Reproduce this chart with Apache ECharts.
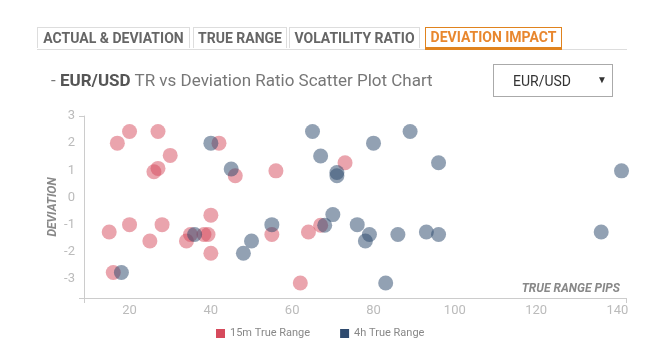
<!DOCTYPE html>
<html>
<head>
<meta charset="utf-8">
<script src="https://cdn.jsdelivr.net/npm/echarts@6/dist/echarts.min.js"></script>
<style>
    html, body { margin: 0; padding: 0; background: #fff; }
    body { width: 662px; height: 354px; position: relative; overflow: hidden; font-family: Roboto, sans-serif; }
    #chart { position: absolute; left: 0; top: 0; width: 662px; height: 354px; }
    .tab { position: absolute; top: 27px; height: 21px; box-sizing: border-box; border: 1px solid #ddd; border-bottom: none;
        font-weight: bold; font-size: 14px; line-height: 20px; color: #666; text-align: center; background: #fff; white-space: nowrap; }
    .tab.active { border: 1px solid #e0831e; border-bottom: 3px solid #e0831e; height: 23px; line-height: 19px; color: #e8872e; }
    #tabline { position: absolute; left: 37px; top: 49px; width: 590px; height: 1px; background: #ddd; }
    #title { position: absolute; left: 51px; top: 69px; font-size: 17px; line-height: 22px; color: #777; white-space: nowrap; }
    #title b { color: #555; }
    #select { position: absolute; left: 493px; top: 64px; width: 120px; height: 33px; box-sizing: border-box; border: 1px solid #aaa;
        font-size: 14px; color: #333; }
    #select span { position: absolute; left: 19px; top: 8px; }
    #select i { position: absolute; left: 103px; top: 9px; font-style: normal; font-size: 10px; }
</style>
</head>
<body>
<div id="chart"></div>
<div id="tabline"></div>
<div class="tab" style="left:37px;width:153px;">ACTUAL &amp; DEVIATION</div>
<div class="tab" style="left:193px;width:94px;">TRUE RANGE</div>
<div class="tab" style="left:289px;width:131px;">VOLATILITY RATIO</div>
<div class="tab active" style="left:425px;width:137px;">DEVIATION IMPACT</div>
<div id="title">- <b>EUR/USD</b> TR vs Deviation Ratio Scatter Plot Chart</div>
<div id="select"><span>EUR/USD</span><i>&#9660;</i></div>
<script>
// 图例名称
var seriesNames = ['15m True Range', '4h True Range'];
// 15m 数据 [true range pips, deviation]
var data15m = [
    [17, 2.0], [20, 2.43], [27, 2.43], [30, 1.55], [26, 0.95], [27, 1.07], [42, 2.0], [46, 0.8],
    [56, 0.98], [73, 1.28], [15, -1.27], [20, -1.0], [25, -1.6], [28, -1.0], [16, -2.76], [34, -1.6],
    [35, -1.36], [38.3, -1.36], [39.3, -1.36], [40, -0.65], [40, -2.05], [55, -1.36], [64, -1.27],
    [67, -1.02], [62, -3.15]
];
// 4h 数据
var data4h = [
    [40, 2.0], [45, 1.05], [65, 2.43], [67, 1.53], [71, 0.92], [71, 0.8], [36, -1.36], [18, -2.76],
    [55, -1.0], [50, -1.6], [48, -2.05], [68, -1.02], [70, -0.63], [76, -1.0], [79, -1.36], [78, -1.6],
    [86, -1.36], [93, -1.27], [96, -1.36], [136, -1.27], [83, -3.15], [89, 2.43], [80, 2.0], [96, 1.28],
    [141, 0.98]
];
// 刻度标签
var xTicks = [20, 40, 60, 80, 100, 120, 140];
var yTicks = [-3, -2, -1, 0, 1, 2, 3];
var xRange = [8.8, 142.1];
var yRange = [-3.7, 3];

var colors = ['#d64a5c', '#2e4a6e'];
var myChart = echarts.init(document.getElementById('chart'));
var option = {
    animation: false,
    color: colors,
    grid: { left: 84, right: 36, top: 116, bottom: 56 },
    legend: {
        data: seriesNames,
        left: 211,
        top: 323,
        icon: 'rect',
        itemWidth: 9,
        itemHeight: 9,
        itemGap: 30,
        itemStyle: { opacity: 1 },
        textStyle: { color: '#888', fontSize: 11, fontFamily: 'Roboto' }
    },
    xAxis: {
        type: 'value',
        min: xRange[0],
        max: xRange[1],
        name: 'TRUE RANGE PIPS',
        nameLocation: 'end',
        nameGap: -6,
        nameTextStyle: {
            align: 'right', verticalAlign: 'bottom', padding: [0, 0, 3, 0],
            color: '#888', fontSize: 12, fontWeight: 'bold', fontStyle: 'italic', fontFamily: 'Roboto'
        },
        axisLine: { onZero: false, lineStyle: { color: '#ccc' } },
        axisTick: { show: true, length: 5, lineStyle: { color: '#ccc' }, customValues: xRange },
        axisLabel: { color: '#bbb', fontSize: 13, margin: 6, fontFamily: 'Roboto', customValues: xTicks },
        splitLine: { show: false }
    },
    yAxis: {
        type: 'value',
        min: yRange[0],
        max: yRange[1],
        name: 'DEVIATION',
        nameLocation: 'middle',
        nameGap: 25,
        nameMoveOverlap: false,
        nameTextStyle: { color: '#888', fontSize: 12, fontWeight: 'bold', fontStyle: 'italic', fontFamily: 'Roboto' },
        axisLine: { show: true, onZero: false, lineStyle: { color: '#ccc' } },
        axisTick: { show: true, length: 5, lineStyle: { color: '#ccc' }, customValues: yRange },
        axisLabel: { color: '#bbb', fontSize: 13, margin: 9, fontFamily: 'Roboto', customValues: yTicks },
        splitLine: { show: false }
    },
    series: [
        {
            name: seriesNames[0],
            type: 'scatter',
            symbolSize: 15,
            data: data15m,
            itemStyle: { color: colors[0], opacity: 0.5 }
        },
        {
            name: seriesNames[1],
            type: 'scatter',
            symbolSize: 15,
            data: data4h,
            itemStyle: { color: colors[1], opacity: 0.52 }
        }
    ]
};
myChart.setOption(option);
</script>
</body>
</html>
